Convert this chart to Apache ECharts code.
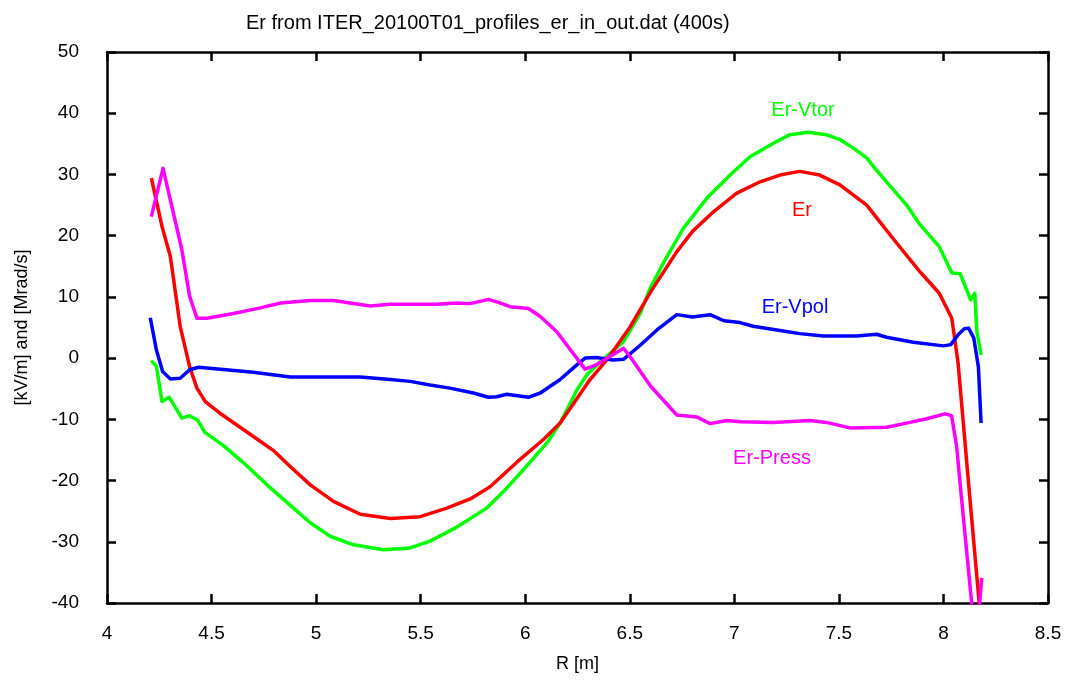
<!DOCTYPE html>
<html>
<head>
<meta charset="utf-8">
<script src="https://cdn.jsdelivr.net/npm/echarts@6/dist/echarts.min.js"></script>
<style>
html,body{margin:0;padding:0;background:#fff;}
#chart{width:1065px;height:685px;}
</style>
</head>
<body>
<div id="chart"></div>
<script>
// ---- Data ----
var titleText = 'Er from ITER_20100T01_profiles_er_in_out.dat (400s)';
var xTicks = [4, 4.5, 5, 5.5, 6, 6.5, 7, 7.5, 8, 8.5];
var yTicks = [-40, -30, -20, -10, 0, 10, 20, 30, 40, 50];
var seriesNames = ['Er-Vtor', 'Er', 'Er-Vpol', 'Er-Press'];

var rVtor = [4.212,4.236,4.263,4.298,4.358,4.395,4.435,4.467,4.557,4.653,4.765,4.892,4.972,5.067,5.179,5.322,5.45,5.545,5.673,5.816,5.896,5.976,6.103,6.167,6.247,6.295,6.36,6.47,6.55,6.597,6.66,6.756,6.868,6.98,7.075,7.187,7.266,7.354,7.44,7.505,7.569,7.633,7.665,7.728,7.824,7.888,7.98,8.04,8.08,8.13,8.15,8.16,8.18];
var erVtor = [-0.4,-1.3,-7.1,-6.4,-9.8,-9.4,-10.2,-12.1,-14.3,-17.1,-20.7,-24.5,-26.9,-29.1,-30.5,-31.3,-31.0,-29.9,-27.6,-24.5,-21.8,-18.8,-13.9,-10.6,-5.2,-2.7,-0.6,2.7,7.3,11.4,15.5,21.2,26.1,29.9,32.9,35.1,36.5,36.9,36.5,35.7,34.3,32.7,31.3,28.8,25.0,21.8,18.2,13.9,13.8,9.5,10.6,4.3,0.5];

var rEr = [4.212,4.263,4.303,4.35,4.395,4.43,4.47,4.54,4.70,4.80,4.876,4.972,5.083,5.211,5.355,5.498,5.625,5.737,5.832,5.96,6.087,6.167,6.31,6.39,6.5,6.605,6.725,6.80,6.90,7.01,7.123,7.218,7.313,7.408,7.505,7.633,7.695,7.776,7.888,7.98,8.04,8.07,8.12,8.171,8.18];
var er = [29.4,21.5,16.6,5.2,-1.4,-4.9,-7.1,-9.0,-12.8,-15.2,-17.7,-20.7,-23.4,-25.5,-26.2,-25.9,-24.5,-23.0,-21.0,-17.0,-13.3,-10.6,-3.5,-0.3,5.0,11.1,17.4,20.7,23.9,26.9,28.8,29.9,30.5,29.9,28.3,25.0,22.3,18.8,14.1,10.6,6.5,-0.8,-20.4,-40,-43.5];

var rVpol = [4.207,4.236,4.266,4.303,4.35,4.395,4.438,4.70,4.876,5.067,5.211,5.355,5.45,5.545,5.64,5.752,5.824,5.864,5.912,6.015,6.072,6.167,6.247,6.286,6.34,6.42,6.47,6.55,6.63,6.725,6.80,6.884,6.95,7.027,7.09,7.218,7.313,7.425,7.585,7.68,7.728,7.856,8.0,8.035,8.07,8.10,8.12,8.145,8.167,8.18];
var erVpol = [6.6,1.35,-2.2,-3.4,-3.3,-1.9,-1.5,-2.3,-3.1,-3.1,-3.1,-3.5,-3.8,-4.4,-4.9,-5.7,-6.4,-6.3,-5.9,-6.4,-5.7,-3.5,-1.1,0.0,0.1,-0.3,-0.2,2.1,4.6,7.1,6.7,7.1,6.1,5.8,5.2,4.5,4.0,3.6,3.6,3.9,3.4,2.6,2.0,2.2,3.8,4.8,4.9,3.3,-1.4,-10.6];

var rPress = [4.212,4.268,4.358,4.395,4.43,4.478,4.605,4.733,4.83,4.972,5.083,5.259,5.355,5.577,5.673,5.737,5.824,5.872,5.928,6.015,6.072,6.151,6.215,6.286,6.34,6.47,6.50,6.60,6.725,6.82,6.884,6.964,7.03,7.187,7.362,7.44,7.553,7.728,7.84,7.92,8.007,8.039,8.063,8.087,8.135,8.155,8.183];
var erPress = [23.1,31.0,17.7,10.1,6.5,6.5,7.3,8.2,9.0,9.4,9.4,8.5,8.8,8.8,9.0,8.9,9.6,9.1,8.4,8.1,6.8,4.3,1.4,-1.8,-1.1,1.6,0.3,-4.6,-9.3,-9.6,-10.7,-10.2,-10.4,-10.5,-10.2,-10.5,-11.4,-11.3,-10.5,-9.9,-9.1,-9.4,-14.4,-23.1,-40,-47.5,-35.9];

function pairs(xs, ys){ return xs.map(function(x,i){ return [x, ys[i]]; }); }

var FONT = '"Liberation Sans", Arial, sans-serif';
var axisLineStyle = {color:'#000', width:2.5};

var chart = echarts.init(document.getElementById('chart'), null, {renderer:'canvas'});
var baseX = {type:'value', min:4, max:8.5, interval:0.5,
  axisLine:{show:true, onZero:false, lineStyle:axisLineStyle},
  axisTick:{show:true, inside:true, length:9, lineStyle:{color:'#000', width:2.5}},
  splitLine:{show:false}};
var baseY = {type:'value', min:-40, max:50, interval:10,
  axisLine:{show:true, onZero:false, lineStyle:axisLineStyle},
  axisTick:{show:true, inside:true, length:9, lineStyle:{color:'#000', width:2.5}},
  splitLine:{show:false}};

var colors = ['#00ff00', '#ff0000', '#0000ff', '#ff00ff'];
var dataSets = [pairs(rVtor, erVtor), pairs(rEr, er), pairs(rVpol, erVpol), pairs(rPress, erPress)];

var option = {
  animation:false,
  backgroundColor:'#fff',
  title:{text:titleText, left:241, top:8,
    textStyle:{fontFamily:FONT, fontSize:20, fontWeight:'normal', color:'#000'}},
  grid:{left:107, right:17, top:52, bottom:82, containLabel:false, outerBoundsMode:'none'},
  xAxis:[
    Object.assign({}, baseX, {position:'bottom',
      name:'R [m]', nameLocation:'middle', nameGap:52,
      nameTextStyle:{fontFamily:FONT, fontSize:18, color:'#000'},
      axisLabel:{show:true, margin:21, fontFamily:FONT, fontSize:19, color:'#000',
        formatter:function(v){ return xTicks.indexOf(v) >= 0 ? String(v) : ''; }}}),
    Object.assign({}, baseX, {position:'top', axisLabel:{show:false}})
  ],
  yAxis:[
    Object.assign({}, baseY, {position:'left',
      name:'[kV/m] and [Mrad/s]', nameLocation:'middle', nameGap:76,
      nameTextStyle:{fontFamily:FONT, fontSize:18, color:'#000'},
      axisLabel:{show:true, margin:28, fontFamily:FONT, fontSize:19, color:'#000',
        formatter:function(v){ return yTicks.indexOf(v) >= 0 ? String(v) : ''; }}}),
    Object.assign({}, baseY, {position:'right', axisLabel:{show:false}})
  ],
  series: seriesNames.map(function(n, i){
    return {name:n, type:'line', xAxisIndex:0, yAxisIndex:0, data:dataSets[i],
      showSymbol:false, symbol:'none', clip:true,
      lineStyle:{color:colors[i], width:3.5, join:'round', cap:'butt'}, itemStyle:{color:colors[i]}};
  }),
  graphic:[
    {type:'text', x:803, y:110, style:{text:seriesNames[0], fill:colors[0], font:'20px ' + FONT, textAlign:'center', textVerticalAlign:'middle'}},
    {type:'text', x:802, y:210, style:{text:seriesNames[1], fill:colors[1], font:'20px ' + FONT, textAlign:'center', textVerticalAlign:'middle'}},
    {type:'text', x:795, y:307, style:{text:seriesNames[2], fill:colors[2], font:'20px ' + FONT, textAlign:'center', textVerticalAlign:'middle'}},
    {type:'text', x:772, y:458, style:{text:seriesNames[3], fill:colors[3], font:'20px ' + FONT, textAlign:'center', textVerticalAlign:'middle'}}
  ]
};
chart.setOption(option);
</script>
</body>
</html>
